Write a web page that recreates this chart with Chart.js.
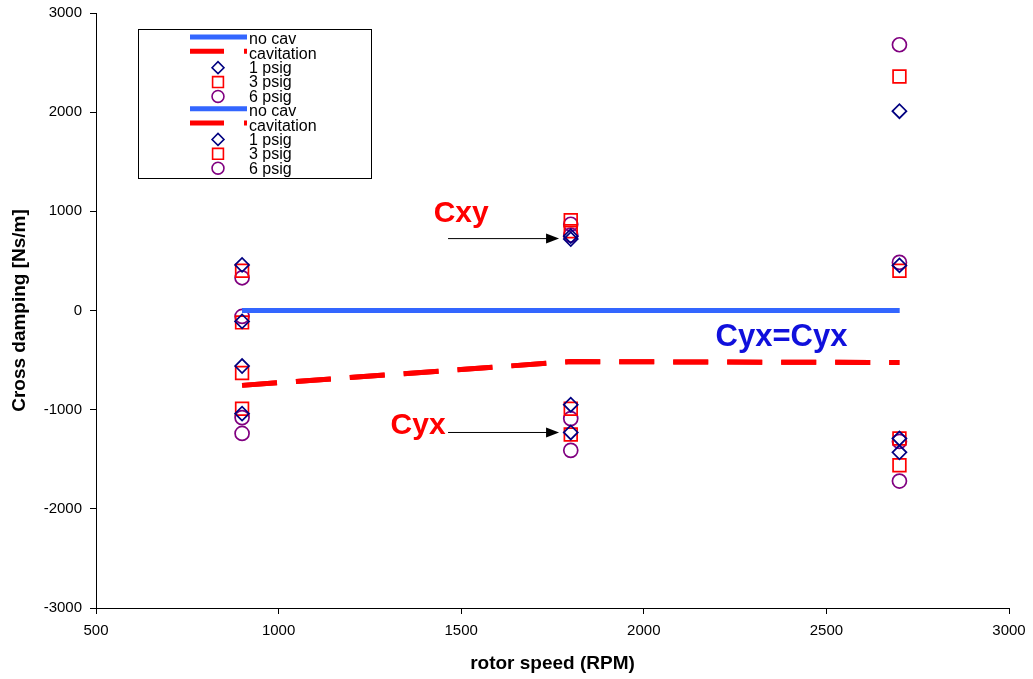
<!DOCTYPE html>
<html><head><meta charset="utf-8">
<script src="https://cdn.jsdelivr.net/npm/chart.js@4/dist/chart.umd.min.js"></script>
<style>html,body{margin:0;padding:0;background:#fff}#wrap{width:1033px;height:679px;position:relative}</style>
</head><body><div id="wrap"><canvas id="c"></canvas></div>
<script>
// ---- data ----
const speeds = [900, 1800, 2700];
const noCavCxy = [0, 0, 0];
const cavCxy = [-755, -515, -525];
const noCavCyx = [0, 0, 0];
const cavCyx = [-755, -515, -525];
const pointSpeeds = [900, 900, 1800, 1800, 2700, 2700];
const cxy1psig = [460, -110, 720, 750, 2010, 455];
const cxy3psig = [400, -120, 910, 800, 2360, 400];
const cxy6psig = [330, -60, 870, 760, 2680, 485];
const cyx1psig = [-560, -1040, -950, -1230, -1290, -1430];
const cyx3psig = [-630, -990, -990, -1250, -1290, -1560];
const cyx6psig = [-1080, -1240, -1090, -1410, -1320, -1720];
const xTicks = [500, 1000, 1500, 2000, 2500, 3000];
const yTicks = [-3000, -2000, -1000, 0, 1000, 2000, 3000];
const seriesLabels = ['no cav', 'cavitation', '1 psig', '3 psig', '6 psig'];
const axisTitles = { x: 'rotor speed (RPM)', y: 'Cross damping [Ns/m]' };
const noteLabels = { cxy: 'Cxy', cyx: 'Cyx', eq: 'Cyx=Cyx' };

// ---- helpers ----
const FONT = '"Liberation Sans", Arial, sans-serif';
const pts = (xs, ys) => ys.map((v, i) => ({ x: xs[i], y: v }));
const lineDs = (label, ys, color, dash) => ({
  label, data: pts(speeds, ys), showLine: true, borderColor: color, backgroundColor: color,
  borderWidth: 5, borderDash: dash, pointRadius: 0, pointHoverRadius: 0, borderCapStyle: 'butt'
});
const markDs = (label, ys, style, color, r) => ({
  label, data: pts(pointSpeeds, ys), showLine: false, pointStyle: style, pointRadius: r,
  pointHoverRadius: r, borderColor: color, backgroundColor: 'rgba(0,0,0,0)', pointBorderWidth: 1.7
});
const BLUE = '#3366ff', RED = '#ff0000', NAVY = '#000080', PURPLE = '#800080';
const DASH = [35, 19];

const datasets = [
  lineDs(seriesLabels[0], noCavCxy, BLUE, []),
  lineDs(seriesLabels[1], cavCxy, RED, DASH),
  markDs(seriesLabels[2], cxy1psig, 'rectRot', NAVY, 7),
  markDs(seriesLabels[3], cxy3psig, 'rect', RED, 9),
  markDs(seriesLabels[4], cxy6psig, 'circle', PURPLE, 7),
  lineDs(seriesLabels[0], noCavCyx, BLUE, []),
  lineDs(seriesLabels[1], cavCyx, RED, DASH),
  markDs(seriesLabels[2], cyx1psig, 'rectRot', NAVY, 7),
  markDs(seriesLabels[3], cyx3psig, 'rect', RED, 9),
  markDs(seriesLabels[4], cyx6psig, 'circle', PURPLE, 7)
];

// custom legend box drawn from the datasets
const boxLegend = {
  id: 'boxLegend',
  afterDraw(chart) {
    const ctx = chart.ctx;
    const L = 138, T = 29, W = 233, H = 149, step = 14.35;
    ctx.save();
    ctx.fillStyle = '#fff';
    ctx.fillRect(L, T, W, H);
    ctx.strokeStyle = '#000';
    ctx.lineWidth = 1;
    ctx.strokeRect(L + 0.5, T + 0.5, W, H);
    ctx.textBaseline = 'middle';
    chart.data.datasets.forEach((ds, i) => {
      const y = T + 10 + i * step;
      if (ds.showLine) {
        ctx.strokeStyle = ds.borderColor;
        ctx.lineWidth = 5;
        ctx.setLineDash(ds.borderDash && ds.borderDash.length ? [34, 20] : []);
        ctx.beginPath();
        ctx.moveTo(190, y - 2);
        ctx.lineTo(247, y - 2);
        ctx.stroke();
        ctx.setLineDash([]);
      } else {
        ctx.strokeStyle = ds.borderColor;
        ctx.fillStyle = 'rgba(0,0,0,0)';
        ctx.lineWidth = 1.6;
        Chart.helpers.drawPoint(ctx, {
          pointStyle: ds.pointStyle, radius: ds.pointRadius * 0.85, rotation: 0,
          borderWidth: 1.6
        }, 218, y);
      }
      ctx.font = '16px ' + FONT;
      ctx.fillStyle = '#000';
      ctx.fillText(ds.label, 249, y + 1);
    });
    ctx.restore();
  }
};

// text notes and arrows, anchored in data coordinates
const notes = {
  id: 'notes',
  afterDatasetsDraw(chart) {
    const { ctx, scales: { x, y } } = chart;
    ctx.save();
    ctx.textAlign = 'center';
    ctx.textBaseline = 'middle';
    ctx.font = 'bold 30px ' + FONT;
    ctx.fillStyle = RED;
    ctx.fillText(noteLabels.cxy, x.getPixelForValue(1500), y.getPixelForValue(980));
    ctx.fillText(noteLabels.cyx, x.getPixelForValue(1382), y.getPixelForValue(-1160));
    ctx.font = 'bold 31px ' + FONT;
    ctx.fillStyle = '#1010dc';
    ctx.fillText(noteLabels.eq, x.getPixelForValue(2377), y.getPixelForValue(-275));
    const arrow = (x0, x1, yv) => {
      const px0 = x.getPixelForValue(x0), px1 = x.getPixelForValue(x1), py = y.getPixelForValue(yv);
      ctx.strokeStyle = '#000';
      ctx.fillStyle = '#000';
      ctx.lineWidth = 1;
      ctx.beginPath();
      ctx.moveTo(px0, py);
      ctx.lineTo(px1 - 10, py);
      ctx.stroke();
      ctx.beginPath();
      ctx.moveTo(px1, py);
      ctx.lineTo(px1 - 13, py - 5);
      ctx.lineTo(px1 - 13, py + 5);
      ctx.closePath();
      ctx.fill();
    };
    arrow(1464, 1768, 725);
    arrow(1464, 1768, -1230);
    ctx.restore();
  }
};

new Chart(document.getElementById('c'), {
  type: 'scatter',
  data: { datasets },
  options: {
    responsive: true,
    maintainAspectRatio: false,
    animation: false,
    layout: { padding: { left: 0, right: 24, top: 13, bottom: 0 } },
    plugins: { legend: { display: false }, tooltip: { enabled: false } },
    scales: {
      x: {
        type: 'linear', min: 500, max: 3000,
        afterBuildTicks: (s) => { s.ticks = xTicks.map(v => ({ value: v })); },
        afterFit: (s) => { s.height = 71; s.paddingLeft = 0; s.paddingRight = 0; },
        grid: { drawOnChartArea: false, drawTicks: true, tickLength: 6, color: '#000' },
        border: { color: '#000', width: 1 },
        ticks: { color: '#000', font: { family: FONT, size: 15 }, padding: 8, maxRotation: 0, callback: (v) => String(v) },
        title: { display: true, text: axisTitles.x, color: '#000', font: { family: FONT, size: 19, weight: 'bold' }, padding: { top: 4, bottom: 4 } }
      },
      y: {
        type: 'linear', min: -3000, max: 3000,
        afterBuildTicks: (s) => { s.ticks = yTicks.map(v => ({ value: v })); },
        afterFit: (s) => { s.width = 96; s.paddingTop = 0; s.paddingBottom = 0; },
        grid: { drawOnChartArea: false, drawTicks: true, tickLength: 6, color: '#000' },
        border: { color: '#000', width: 1 },
        ticks: { color: '#000', font: { family: FONT, size: 15 }, padding: 8, callback: (v) => String(v) },
        title: { display: true, text: axisTitles.y, color: '#000', font: { family: FONT, size: 19, weight: 'bold' }, padding: { top: 8, bottom: 4 } }
      }
    }
  },
  plugins: [notes, boxLegend]
});
</script>
</body></html>
